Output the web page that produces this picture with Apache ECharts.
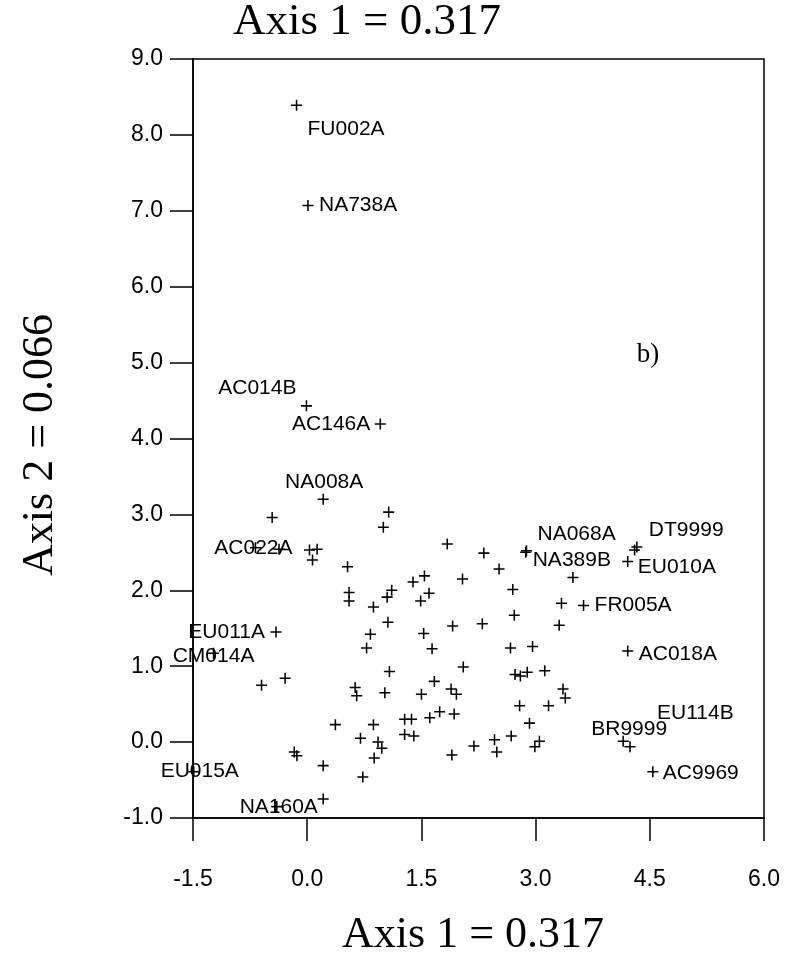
<!DOCTYPE html>
<html>
<head>
<meta charset="utf-8">
<script src="https://cdn.jsdelivr.net/npm/echarts@6/dist/echarts.min.js"></script>
<style>
  html, body { margin: 0; padding: 0; background: #fff; }
  #main { width: 789px; height: 956px; }
</style>
</head>
<body>
<div id="main"></div>
<script>
// ordination scores, axis 1 / axis 2
const labelNames = ['FU002A', 'NA738A', 'AC014B', 'AC146A', 'NA008A', 'AC022A', 'NA068A', 'NA389B',
  'DT9999', 'EU010A', 'FR005A', 'EU011A', 'CM014A', 'AC018A', 'EU114B', 'BR9999', 'EU015A', 'AC9969', 'NA160A'];
const labelX = [-0.14, 0.01, -0.01, 0.96, 0.21, -0.68, 2.88, 2.87,
  4.33, 4.21, 3.63, -0.41, -1.23, 4.21, 4.24, 4.15, -1.49, 4.54, -0.40];
const labelY = [8.39, 7.07, 4.43, 4.19, 3.20, 2.56, 2.52, 2.50,
  2.57, 2.38, 1.80, 1.45, 1.17, 1.20, -0.06, 0.01, -0.39, -0.39, -0.85];

const otherX = [4.30, -0.46, 1.07, 1.00, -0.37, 0.03, 0.13, 0.07, 1.84, 0.53, 0.55, 0.55, 0.87, 1.05, 1.11,
  1.39, 1.54, 1.49, 1.60, 2.04, 2.32, 2.52, 2.70, 2.72, 3.34, 3.49, 3.31, 1.06, 0.83, 0.78,
  1.53, 1.64, 1.91, 2.30, 2.67, 2.96, -0.60, -0.29, 1.08, 0.63, 0.65, 1.02, 1.50, 1.67, 1.89,
  1.96, 2.05, 2.73, 2.80, 2.89, 3.12, 3.36, 3.39, 2.79, 3.17, 2.92, 0.37, 0.87, 0.70, 0.93,
  0.98, 0.88, 1.28, 1.37, 1.28, 1.40, 1.61, 1.74, 1.93, 1.90, 2.19, 2.46, 2.49, 2.68, 2.99,
  3.05, -0.17, -0.135, 0.21, 0.73, 0.21];
const otherY = [2.53, 2.96, 3.03, 2.83, 2.54, 2.53, 2.54, 2.40, 2.61, 2.31, 1.97, 1.86, 1.78, 1.91, 2.00,
  2.11, 2.19, 1.86, 1.96, 2.15, 2.49, 2.28, 2.01, 1.67, 1.83, 2.17, 1.54, 1.58, 1.42, 1.24,
  1.43, 1.23, 1.53, 1.56, 1.24, 1.26, 0.75, 0.84, 0.93, 0.72, 0.61, 0.65, 0.63, 0.80, 0.70,
  0.63, 0.99, 0.89, 0.87, 0.92, 0.94, 0.70, 0.58, 0.48, 0.48, 0.25, 0.23, 0.23, 0.05, 0.00,
  -0.08, -0.21, 0.30, 0.30, 0.10, 0.08, 0.32, 0.40, 0.37, -0.17, -0.05, 0.03, -0.13, 0.08, -0.06,
  0.01, -0.13, -0.18, -0.31, -0.46, -0.75];

// where each site name sits relative to its marker: [align, dx, dy]
const labelPlace = {
  FU002A: ['left', 11, 24], NA738A: ['left', 11, 0], AC014B: ['right', -10, -18],
  AC146A: ['right', -10, 0], NA008A: ['center', 1, -17], AC022A: ['center', -2, 0],
  NA068A: ['left', 11, -17], NA389B: ['left', 7, 8], DT9999: ['left', 12, -17],
  EU010A: ['left', 10, 6], FR005A: ['left', 11, 0], EU011A: ['right', -11, 0],
  CM014A: ['center', 0, 3], AC018A: ['left', 11, 3], EU114B: ['left', 27, -33],
  BR9999: ['center', 6, -12], EU015A: ['center', 6, 0], AC9969: ['left', 10, 2],
  NA160A: ['center', 2, 1]
};

const xTicks = { min: -1.5, max: 6.0, step: 1.5 };
const yTicks = { min: -1.0, max: 9.0, step: 1.0 };

const plus = 'path://M4.3,0H5.7V4.3H10V5.7H5.7V10H4.3V5.7H0V4.3H4.3Z';
const sans = '"Liberation Sans", Arial, sans-serif';
const serif = '"Liberation Serif", "Times New Roman", serif';

let chart = echarts.init(document.getElementById('main'));

let labelled = labelNames.map(function (n, i) {
  let p = labelPlace[n];
  return {
    name: n,
    value: [labelX[i], labelY[i]],
    label: { show: true, position: 'inside', align: p[0], verticalAlign: 'middle', offset: [p[1], p[2]] }
  };
});
let others = otherX.map(function (x, i) { return [x, otherY[i]]; });

let axisCommon = {
  type: 'value',
  axisLine: { onZero: false, lineStyle: { color: '#000', width: 1.5 } },
  axisTick: { inside: false, length: 23, lineStyle: { color: '#000', width: 1.5 } },
  splitLine: { show: false }
};

chart.setOption({
  animation: false,
  backgroundColor: '#fff',
  grid: { left: 193, right: 25, top: 59, bottom: 138, show: true, borderColor: '#000', borderWidth: 1.5 },
  xAxis: Object.assign({}, axisCommon, {
    min: xTicks.min, max: xTicks.max, interval: xTicks.step,
    axisLabel: { margin: 50, color: '#000', fontFamily: sans, fontSize: 23, formatter: function (v) { return v.toFixed(1); } }
  }),
  yAxis: Object.assign({}, axisCommon, {
    min: yTicks.min, max: yTicks.max, interval: yTicks.step,
    axisLabel: { margin: 30, color: '#000', fontFamily: sans, fontSize: 23, formatter: function (v) { return v.toFixed(1); } }
  }),
  graphic: [
    { type: 'text', x: 367, y: 22, style: { text: 'Axis 1 = 0.317', font: '45px ' + serif, fill: '#000', align: 'center', verticalAlign: 'middle' } },
    { type: 'text', x: 473, y: 935, style: { text: 'Axis 1 = 0.317', font: '44px ' + serif, fill: '#000', align: 'center', verticalAlign: 'middle' } },
    { type: 'text', x: 40, y: 445, rotation: Math.PI / 2, style: { text: 'Axis 2 = 0.066', font: '44px ' + serif, fill: '#000', align: 'center', verticalAlign: 'middle' } },
    { type: 'text', x: 648, y: 355, style: { text: 'b)', font: '27px ' + serif, fill: '#000', align: 'center', verticalAlign: 'middle' } }
  ],
  series: [
    {
      type: 'scatter', symbol: plus, symbolSize: 11,
      itemStyle: { color: '#000', opacity: 1 },
      label: { color: '#000', fontFamily: sans, fontSize: 21, formatter: '{b}' },
      data: labelled
    },
    {
      type: 'scatter', symbol: plus, symbolSize: 11,
      itemStyle: { color: '#000', opacity: 1 },
      data: others
    }
  ]
});
</script>
</body>
</html>
